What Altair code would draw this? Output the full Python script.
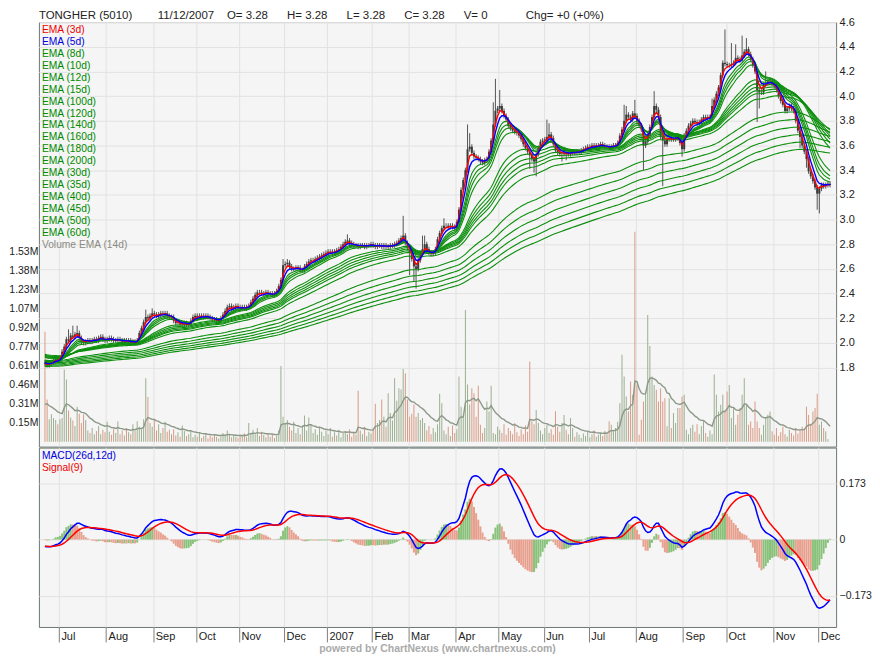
import altair as alt
import pandas as pd

# ---------------- data ----------------
closes = [
    1.83, 1.82, 1.83, 1.84, 1.85, 1.87, 1.86, 1.88, 1.93, 1.97,
    2.03, 2.02, 2.06, 2.05, 2.07, 2.08, 2.04, 2.01, 2.00, 2.01,
    2.02, 2.01, 2.02, 2.03, 2.02, 2.04, 2.05, 2.03, 2.02, 2.03,
    2.04, 2.03, 2.02, 2.02, 2.03, 2.02, 2.01, 2.02, 2.01, 2.02,
    2.00, 2.01, 2.00, 2.02, 2.08, 2.12, 2.17, 2.21, 2.20, 2.22,
    2.24, 2.23, 2.22, 2.23, 2.24, 2.23, 2.24, 2.22, 2.21, 2.21,
    2.18, 2.16, 2.16, 2.15, 2.15, 2.16, 2.15, 2.15, 2.18, 2.21,
    2.22, 2.21, 2.22, 2.22, 2.21, 2.22, 2.21, 2.20, 2.19, 2.19,
    2.18, 2.18, 2.20, 2.23, 2.26, 2.29, 2.30, 2.28, 2.29, 2.30,
    2.29, 2.28, 2.29, 2.28, 2.29, 2.30, 2.33, 2.36, 2.39, 2.41,
    2.41, 2.40, 2.40, 2.41, 2.40, 2.40, 2.39, 2.40, 2.42, 2.46,
    2.51, 2.63, 2.64, 2.65, 2.62, 2.60, 2.60, 2.61, 2.61, 2.59,
    2.59, 2.62, 2.64, 2.66, 2.67, 2.67, 2.68, 2.69, 2.70, 2.71,
    2.72, 2.73, 2.74, 2.74, 2.73, 2.74, 2.75, 2.76, 2.78, 2.80,
    2.82, 2.83, 2.81, 2.80, 2.79, 2.79, 2.78, 2.79, 2.79, 2.78,
    2.79, 2.79, 2.80, 2.79, 2.78, 2.79, 2.79, 2.78, 2.79, 2.78,
    2.78, 2.79, 2.79, 2.80, 2.81, 2.83, 2.85, 2.87, 2.81, 2.77,
    2.73, 2.68, 2.62, 2.60, 2.67, 2.72, 2.76, 2.80, 2.76, 2.73,
    2.72, 2.73, 2.76, 2.84, 2.89, 2.93, 2.95, 2.95, 2.94, 2.95,
    2.94, 2.93, 2.98, 3.08, 3.24, 3.32, 3.40, 3.57, 3.59, 3.54,
    3.51, 3.50, 3.49, 3.47, 3.46, 3.48, 3.49, 3.55, 3.64, 3.77,
    3.88, 3.90, 3.92, 3.88, 3.84, 3.81, 3.76, 3.74, 3.72, 3.71,
    3.70, 3.68, 3.65, 3.61, 3.58, 3.55, 3.52, 3.49, 3.47, 3.53,
    3.58, 3.63, 3.64, 3.65, 3.67, 3.69, 3.66, 3.61, 3.56, 3.54,
    3.53, 3.53, 3.54, 3.53, 3.53, 3.54, 3.55, 3.54, 3.55, 3.55,
    3.56, 3.57, 3.58, 3.59, 3.59, 3.60, 3.59, 3.60, 3.60, 3.61,
    3.60, 3.59, 3.59, 3.58, 3.59, 3.60, 3.60, 3.62, 3.68, 3.73,
    3.80, 3.85, 3.83, 3.81, 3.86, 3.84, 3.80, 3.76, 3.73, 3.60,
    3.63, 3.68, 3.75, 3.83, 3.92, 3.89, 3.83, 3.67, 3.64, 3.61,
    3.65, 3.66, 3.65, 3.65, 3.66, 3.67, 3.62, 3.57, 3.68, 3.72,
    3.76, 3.78, 3.80, 3.79, 3.78, 3.79, 3.81, 3.83, 3.82, 3.83,
    3.83, 3.92, 3.97, 4.02, 4.07, 4.17, 4.27, 4.26, 4.25, 4.25,
    4.26, 4.27, 4.31, 4.30, 4.29, 4.33, 4.36, 4.38, 4.34, 4.30,
    4.25, 4.20, 4.05, 4.03, 4.03, 4.09, 4.10, 4.12, 4.12, 4.10,
    4.08, 4.05, 4.00, 3.96, 3.93, 3.88, 3.90, 3.92, 3.90, 3.88,
    3.80, 3.72, 3.67, 3.60, 3.55, 3.49, 3.39, 3.35, 3.31, 3.26,
    3.21, 3.25, 3.28, 3.27, 3.28, 3.29, 3.28,
]

volumes_k = [
    885, 340, 180, 220, 190, 175, 140, 180, 190, 580,
    500, 250, 195, 170, 125, 280, 225, 150, 220, 175,
    90, 70, 110, 60, 85, 125, 60, 95, 75, 160,
    80, 55, 100, 70, 165, 60, 90, 50, 110, 75,
    60, 140, 85, 165, 120, 100, 180, 510, 360, 150,
    120, 175, 90, 140, 70, 110, 160, 80, 95, 60,
    100, 50, 75, 40, 130, 85, 45, 60, 90, 35,
    55, 40, 70, 30, 45, 65, 25, 50, 35, 60,
    40, 25, 55, 70, 45, 90, 60, 35, 50, 40,
    30, 55, 45, 65, 35, 150, 70, 95, 60, 110,
    45, 80, 55, 35, 70, 40, 60, 30, 50, 90,
    610, 200, 150, 175, 120, 90, 160, 70, 110, 60,
    130, 210, 90, 195, 140, 70, 100, 55, 120, 80,
    45, 90, 60, 110, 40, 75, 50, 95, 35, 70,
    85, 60, 100, 40, 75, 55, 410, 90, 60, 120,
    45, 80, 65, 110, 305, 150, 175, 340, 200, 120,
    390, 230, 170, 510, 330, 430, 420, 585, 550, 340,
    200, 225, 300, 200, 230, 175, 190, 150, 90, 125,
    60, 110, 75, 140, 385, 310, 90, 60, 120, 45,
    130, 70, 100, 525, 280, 200, 1060, 460, 300, 430,
    390, 200, 450, 136, 70, 110, 324, 243, 450, 70,
    60, 120, 95, 70, 140, 55, 110, 85, 60, 150,
    75, 45, 100, 60, 130, 80, 645, 165, 140, 255,
    150, 90, 60, 110, 135, 70, 100, 55, 245, 120,
    80, 150, 215, 95, 60, 190, 110, 40, 75, 55,
    30, 65, 45, 80, 35, 60, 90, 40, 55, 70,
    45, 85, 60, 165, 135, 90, 110, 160, 310, 700,
    525, 364, 243, 484, 377, 1690, 460, 56, 176, 324,
    404, 1020, 770, 525, 457, 417, 324, 430, 324, 350,
    123, 350, 110, 230, 150, 270, 270, 364, 377, 95,
    60, 110, 135, 80, 140, 60, 125, 165, 70, 40,
    90, 60, 540, 377, 243, 297, 377, 243, 404, 457,
    190, 270, 136, 217, 270, 377, 510, 297, 136, 163,
    110, 324, 163, 110, 56, 136, 190, 217, 243, 83,
    56, 110, 45, 75, 120, 60, 40, 95, 70, 50,
    110, 65, 85, 120, 95, 280, 215, 136, 243, 270,
    385, 136, 163, 110, 83, 20, 0,
]

first_open = 1.84
high_spikes = {11: 2.11, 13: 2.14, 15: 2.14, 47: 2.27, 50: 2.28, 111: 2.68, 113: 2.68,
               141: 2.88, 167: 3.03, 176: 2.87, 177: 2.87, 186: 3.01, 197: 3.77, 198: 3.70,
               209: 3.95, 210: 4.14, 212: 4.05, 234: 3.81, 235: 3.78, 270: 3.93, 271: 3.92,
               275: 3.97, 284: 4.04, 311: 3.98, 317: 4.54, 320: 4.43, 322: 4.42, 325: 4.49,
               327: 4.47, 336: 4.20}
low_spikes = {170: 2.55, 172: 2.50, 173: 2.44, 226: 3.41, 228: 3.38, 229: 3.35, 241: 3.47,
              243: 3.48, 279: 3.40, 288: 3.27, 297: 3.51, 332: 3.79, 333: 3.90, 352: 3.58,
              355: 3.42, 360: 3.08, 361: 3.05}

# EMA levels at the left edge of the chart
ema_seeds = {3: 1.84, 5: 1.845, 8: 1.85, 10: 1.855, 12: 1.86, 15: 1.865, 26: 1.88,
             30: 1.885, 35: 1.89, 40: 1.895, 45: 1.90, 50: 1.905, 60: 1.91,
             100: 1.86, 120: 1.85, 140: 1.84, 160: 1.83, 180: 1.82, 200: 1.81}
signal_seed = -0.02
vol_ema_seed = 0.21
green_spans = [8, 10, 12, 15, 30, 35, 40, 45, 50, 60, 100, 120, 140, 160, 180, 200]

month_ticks = [6.5, 28.5, 50.5, 70.5, 90.5, 111.5, 131.5, 152.5, 169.5, 191.5,
               211.5, 232.5, 253.5, 275.5, 297.5, 317.5, 339.5, 360.5]
month_labels = ["Jul", "Aug", "Sep", "Oct", "Nov", "Dec", "2007", "Feb", "Mar", "Apr",
                "May", "Jun", "Jul", "Aug", "Sep", "Oct", "Nov", "Dec"]
price_ticks = [1.8, 2.0, 2.2, 2.4, 2.6, 2.8, 3.0, 3.2, 3.4, 3.6, 3.8, 4.0, 4.2, 4.4, 4.6]
vol_ticks = [0.1535, 0.3069, 0.4604, 0.6138, 0.7673, 0.9207, 1.0742, 1.2276, 1.3811, 1.5345]
macd_ticks = [-0.173, 0, 0.173]

legend_labels = ["EMA (3d)", "EMA (5d)", "EMA (8d)", "EMA (10d)", "EMA (12d)", "EMA (15d)",
                 "EMA (100d)", "EMA (120d)", "EMA (140d)", "EMA (160d)", "EMA (180d)",
                 "EMA (200d)", "EMA (30d)", "EMA (35d)", "EMA (40d)", "EMA (45d)",
                 "EMA (50d)", "EMA (60d)", "Volume EMA (14d)"]
legend_groups = ["r", "b"] + ["g"] * 16 + ["v"]
macd_legend = ["MACD(26d,12d)", "Signal(9)"]

# ---------------- derived series ----------------
n = min(len(closes), len(volumes_k))
closes = closes[:n]
volumes = [v / 1000.0 for v in volumes_k[:n]]
opens = [first_open] + closes[:-1]
highs, lows = [], []
for i in range(n):
    top = max(opens[i], closes[i])
    bot = min(opens[i], closes[i])
    highs.append(max(top + 0.02, high_spikes.get(i, 0)))
    lows.append(min(bot - 0.02, low_spikes.get(i, 99)))


def ema(vals, span, seed):
    a = 2.0 / (span + 1)
    e = seed
    out = []
    for v in vals:
        e += a * (v - e)
        out.append(e)
    return out


emas = {s: ema(closes, s, ema_seeds[s]) for s in ema_seeds}
macd = [a - b for a, b in zip(emas[12], emas[26])]
signal = ema(macd, 9, signal_seed)
hist = [a - b for a, b in zip(macd, signal)]
hdir = ["up" if i == 0 or hist[i] >= hist[i - 1] else "down" for i in range(n)]
vdir = ["up" if closes[i] >= opens[i] else "down" for i in range(n)]
vema = ema(volumes, 14, vol_ema_seed)

base = pd.DataFrame({
    "i": list(range(n)), "open": opens, "high": highs, "low": lows, "close": closes,
    "vol": volumes, "vdir": vdir, "vema": vema, "ema3": emas[3], "ema5": emas[5],
    "hist": hist, "hdir": hdir,
})
green_df = pd.concat([pd.DataFrame({"i": list(range(n)), "span": s, "val": emas[s]})
                      for s in green_spans], ignore_index=True)
macd_df = pd.concat([
    pd.DataFrame({"i": list(range(n)), "series": "MACD", "val": macd}),
    pd.DataFrame({"i": list(range(n)), "series": "Signal", "val": signal}),
], ignore_index=True)
leg_df = pd.DataFrame({"k": list(range(len(legend_labels))), "label": legend_labels,
                       "grp": legend_groups})
mleg_df = pd.DataFrame({"k": [0, 1], "label": macd_legend, "grp": ["MACD", "Signal"]})

# ---------------- styling ----------------
W, H1, H2 = 800, 426, 180
GRID = "#e2e2e2"
GREEN = "#0c8f0c"
RED = "#ff0000"
BLUE = "#0000ff"
VUP, VDN = "#9caf90", "#d99a84"
HUP, HDN = "#88c27a", "#e8a08e"
VEMA = "#8d9988"
FONT = "Liberation Sans"
nb = "\u00a0"

header = ("TONGHER (5010)" + nb * 8 + "11/12/2007" + nb * 4 + "O= 3.28" + nb * 6 +
          "H= 3.28" + nb * 6 + "L= 3.28" + nb * 6 + "C= 3.28" + nb * 6 + "V= 0" +
          nb * 12 + "Chg= +0 (+0%)")

xs = alt.Scale(domain=[-0.5, n - 0.5], nice=False, zero=False)
xgrid = alt.Axis(values=month_ticks, grid=True, gridColor=GRID, labels=False, ticks=False,
                 domain=False, title=None)
Xt = alt.X("i:Q", scale=xs, axis=xgrid)

label_expr = ("[" + ",".join("'%s'" % m for m in month_labels) + "][indexof([" +
              ",".join(str(v) for v in month_ticks) + "], datum.value)]")
xbottom = alt.Axis(values=month_ticks, labelExpr=label_expr, grid=True, gridColor=GRID,
                   tickSize=15, tickColor="#808080", labelAlign="left", labelBaseline="top",
                   labelPadding=-11, labelOffset=2, labelFontSize=11, labelColor="#222",
                   labelFont=FONT, domain=False, labelOverlap=False, labelFlush=False,
                   title=None)
Xb = alt.X("i:Q", scale=xs, axis=xbottom)

price_scale = alt.Scale(domain=[1.16, 4.60], nice=False, zero=False)
vol_scale = alt.Scale(domain=[-0.040, 3.379], nice=False, zero=False)
price_axis = alt.Axis(orient="right", values=price_ticks, format=".1f", grid=True,
                      gridColor=GRID, tickSize=0, labelPadding=3, domain=False,
                      labelFontSize=11, labelFont=FONT, labelColor="#222", title=None)
vol_axis = alt.Axis(orient="left", values=vol_ticks,
                    labelExpr="format(datum.value, '.2f') + 'M'", grid=False, tickSize=0,
                    labelPadding=1, domain=False, labelFontSize=10.5, labelFont=FONT,
                    labelColor="#222", title=None)

vol_bars = alt.Chart(base).mark_bar(width=1).encode(
    x=Xt, y=alt.Y("vol:Q", scale=vol_scale, axis=vol_axis), y2=alt.datum(0),
    color=alt.Color("vdir:N", scale=alt.Scale(domain=["up", "down"], range=[VUP, VDN]),
                    legend=None))
vema_line = alt.Chart(base).mark_line(color=VEMA, strokeWidth=1.4).encode(
    x=Xt, y=alt.Y("vema:Q", scale=vol_scale, axis=None))
wick = alt.Chart(base).mark_rule(color="#555555", strokeWidth=1).encode(
    x=Xt, y=alt.Y("low:Q", scale=price_scale, axis=price_axis), y2="high:Q")
body = alt.Chart(base).mark_bar(width=2, color="#3a3a3a").encode(
    x=Xt, y=alt.Y("open:Q", scale=price_scale, axis=None), y2="close:Q")
greens = alt.Chart(green_df).mark_line(color=GREEN, strokeWidth=1.1).encode(
    x=Xt, y=alt.Y("val:Q", scale=price_scale, axis=None), detail="span:N")
ema5_line = alt.Chart(base).mark_line(color=BLUE, strokeWidth=1.4).encode(
    x=Xt, y=alt.Y("ema5:Q", scale=price_scale, axis=None))
ema3_line = alt.Chart(base).mark_line(color=RED, strokeWidth=1.4).encode(
    x=Xt, y=alt.Y("ema3:Q", scale=price_scale, axis=None))
legend_top = alt.Chart(leg_df).mark_text(align="left", baseline="middle", font=FONT,
                                         fontSize=10.3).encode(
    x=alt.value(3),
    y=alt.Y("k:O", scale=alt.Scale(type="point", range=[7.6, 224.0], padding=0), axis=None),
    text="label:N",
    color=alt.Color("grp:N", scale=alt.Scale(domain=["r", "b", "g", "v"],
                                             range=["#ee0000", "#0000dd", "#008a00", "#8a8a82"]),
                    legend=None))

top = alt.layer(vol_bars, vema_line, wick, body, greens, ema3_line, ema5_line, legend_top
                ).resolve_scale(y="independent", color="independent").properties(
    width=W, height=H1,
    title=alt.TitleParams(header, anchor="start", frame="group", orient="top", fontSize=11.5,
                          font=FONT, fontWeight="normal", color="#222", offset=-5))

macd_scale = alt.Scale(domain=[-0.268, 0.282], nice=False, zero=False)
hist_scale = alt.Scale(domain=[-0.268 / 1.8, 0.282 / 1.8], nice=False, zero=False)
macd_axis = alt.Axis(orient="right", values=macd_ticks, grid=True, gridColor=GRID,
                     labelExpr="datum.value == 0 ? '0' : format(datum.value, '.3f')",
                     tickSize=0, labelPadding=3, domain=False, labelFontSize=10.5,
                     labelFont=FONT, labelColor="#222", title=None)

hist_bars = alt.Chart(base).mark_bar(width=2).encode(
    x=Xb, y=alt.Y("hist:Q", scale=hist_scale, axis=None), y2=alt.datum(0),
    color=alt.Color("hdir:N", scale=alt.Scale(domain=["up", "down"], range=[HUP, HDN]),
                    legend=None))
macd_lines = alt.Chart(macd_df).mark_line(strokeWidth=1.5).encode(
    x=Xb, y=alt.Y("val:Q", scale=macd_scale, axis=macd_axis),
    color=alt.Color("series:N", scale=alt.Scale(domain=["MACD", "Signal"], range=[BLUE, RED]),
                    legend=None),
    detail="series:N")
legend_bot = alt.Chart(mleg_df).mark_text(align="left", baseline="middle", font=FONT,
                                          fontSize=10.3).encode(
    x=alt.value(3),
    y=alt.Y("k:O", scale=alt.Scale(type="point", range=[8.3, 20.7], padding=0), axis=None),
    text="label:N",
    color=alt.Color("grp:N", scale=alt.Scale(domain=["MACD", "Signal"], range=["#0000dd", "#ee0000"]),
                    legend=None))

bottom = alt.layer(hist_bars, macd_lines, legend_bot).resolve_scale(
    y="independent", color="independent").properties(
    width=W, height=H2,
    title=alt.TitleParams("powered by ChartNexus (www.chartnexus.com)", orient="bottom",
                          anchor="middle", frame="group", fontSize=10.5, fontWeight="bold",
                          font=FONT, color="#aaaaaa", offset=2))

chart = alt.vconcat(top, bottom, spacing=1, bounds="flush", padding=0,
                    background="white").resolve_scale(x="independent").configure_view(
    fill="#f5f5f5", stroke="#6b7774", strokeWidth=1)

chart.save("out.html", embed_options={"renderer": "svg", "actions": False})
